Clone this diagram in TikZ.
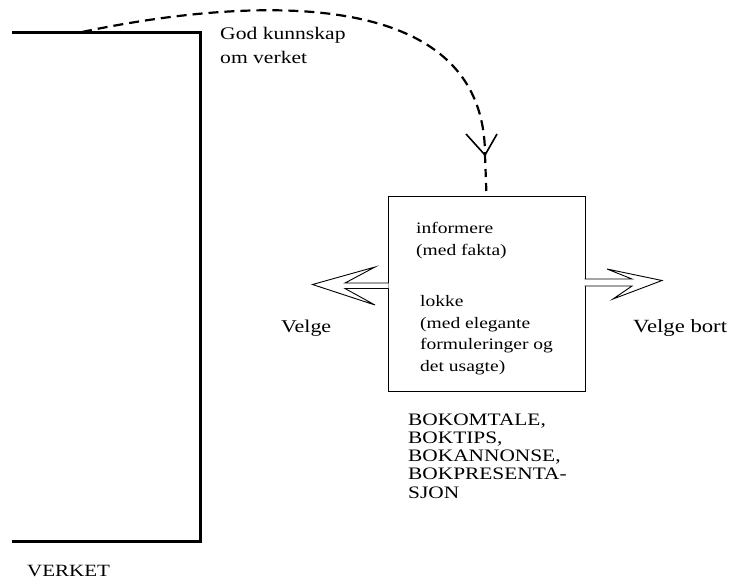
\documentclass[tikz,border=0pt]{standalone}
\usepackage{fontspec}
\setmainfont[FakeStretch=1.22]{Liberation Serif}
\usetikzlibrary{calc}
\begin{document}
\begin{tikzpicture}[x=1pt,y=-1pt,
  txt/.style={anchor=base west,inner sep=0pt,align=left},
  wall/.style={line width=3pt,line join=miter},
  dashlink/.style={line width=2.2pt,dash pattern=on 10pt off 6pt},
  barb/.style={line width=1.6pt,line join=miter},
  panel/.style={draw,line width=1pt,minimum width=197pt,minimum height=195pt,inner sep=0pt},
  blockarrow/.style={line width=0.9pt,line join=miter,fill=white}]
\useasboundingbox (0,0) rectangle (735,579);

% the work itself: an open bracket
\draw[wall] (12,32) -- (200,32) -- (200,541) -- (12,541);
\coordinate (src) at (82,32);
\node[txt,font=\fontsize{17.2}{18}\selectfont] (verket) at (27,576) {VERKET};

% central panel (multi-line texts are placed by the baseline of their last line)
\node[panel] (box) at (486.5,293.5) {};
\node[txt,font=\fontsize{16}{22}\selectfont] (inform) at (416,255) {informere\\(med fakta)};
\node[txt,font=\fontsize{16}{21.5}\selectfont] (lokke) at (420,371) {lokke\\(med elegante\\formuleringer og\\det usagte)};

% knowledge link from the work to the panel
\coordinate (tip) at (485,155);
\draw[dashlink] (src) .. controls (210,5) and (485,-30) .. (tip);
\draw[dashlink,dash pattern=on 8pt off 6pt] (tip) -- (box.north);
\draw[barb] ($(tip)+(-19,-21)$) -- (tip) -- ($(tip)+(12,-21)$);
\node[txt,font=\fontsize{17.7}{24}\selectfont] (god) at (220,63) {God kunnskap\\om verket};

% hollow block arrows to each side; the white fill opens the panel border
\draw[blockarrow] ($(box.west)+(1,-10.5)$) -- (345,283) -- (375,267) -- (312.5,284.5)
  -- (375,305) -- (345,288.5) -- ($(box.west)+(1,-5)$);
\draw[blockarrow] ($(box.east)+(-1,-14.5)$) -- (632,279) -- (607,269) -- (662,280.5)
  -- (613,299) -- (632,286) -- ($(box.east)+(-1,-7.5)$);

\node[txt,font=\fontsize{18}{20}\selectfont] (velge) at (281,332) {Velge};
\node[txt,font=\fontsize{18.6}{20}\selectfont] (bort) at (633,332) {Velge bort};

\node[txt,font=\fontsize{17.5}{18.2}\selectfont] (bok) at (408,498)
  {BOKOMTALE,\\BOKTIPS,\\BOKANNONSE,\\BOKPRESENTA-\\SJON};
\end{tikzpicture}
\end{document}
